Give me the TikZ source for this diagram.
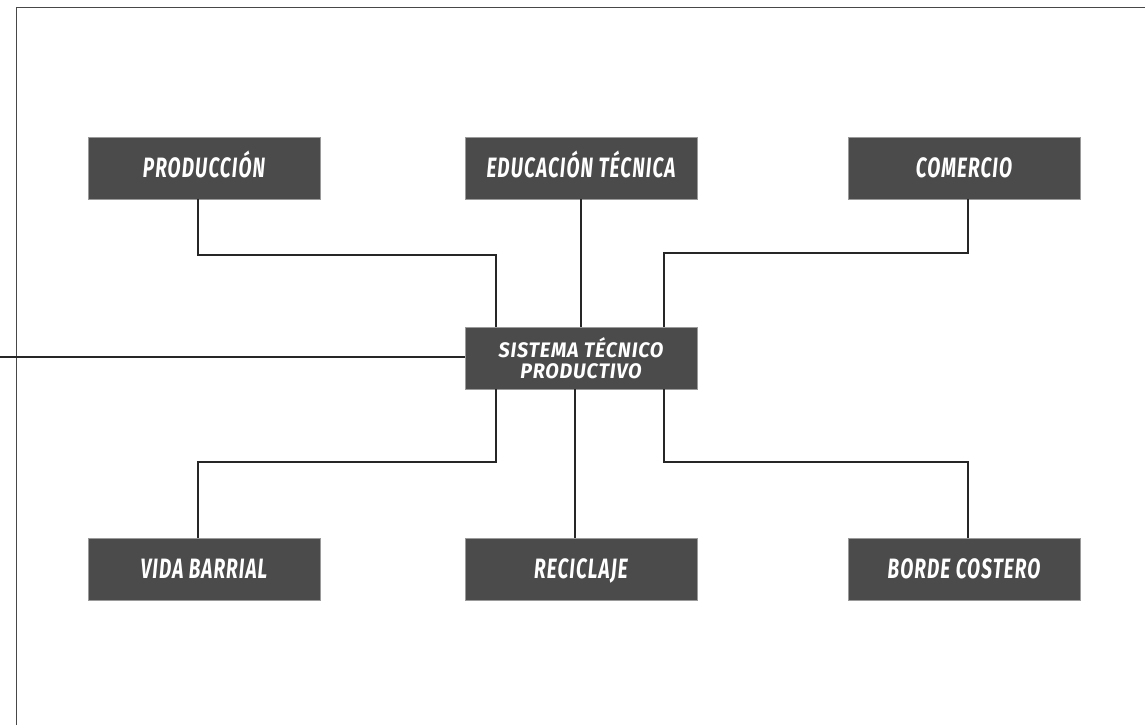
\documentclass[tikz,border=0pt]{standalone}
\usepackage{fontspec}
\usepackage{tikz}
\newfontfamily\boxfont[FakeStretch=0.68,LetterSpace=4]{Fira Sans}
\newfontfamily\centrefont[FakeStretch=0.94,LetterSpace=4]{Fira Sans}
\definecolor{boxgray}{HTML}{4B4B4B}
\definecolor{edgegray}{HTML}{9A9A9A}
\definecolor{framegray}{HTML}{484848}

\begin{document}
\begin{tikzpicture}[x=1pt, y=-1pt,
  tema/.style={fill=boxgray, draw=edgegray, line width=0.8pt, minimum width=232pt,
    minimum height=62pt, inner sep=0pt, text=white, text height=19.3pt, text depth=0pt,
    font=\boxfont\bfseries\itshape\fontsize{28}{30}\selectfont},
  nucleo/.style={tema, align=center, text height=, text depth=,
    font=\centrefont\bfseries\itshape\fontsize{21}{21}\selectfont},
  enlace/.style={draw=black!85, line width=1.3pt}]
\useasboundingbox (0,0) rectangle (1145,725);
\draw[framegray, line width=1.6pt] (16.5,725) |- (1145,7.5);

\node[tema] (prod) at (204,168) {PRODUCCIÓN};
\node[tema] (edu) at (581,168) {EDUCACIÓN TÉCNICA};
\node[tema] (com) at (964,168) {COMERCIO};
\node[nucleo] (sis) at (581,358) {SISTEMA TÉCNICO\\PRODUCTIVO};
\node[tema] (vida) at (204,569) {VIDA BARRIAL};
\node[tema] (reci) at (581,569) {RECICLAJE};
\node[tema] (borde) at (964,569) {BORDE COSTERO};

% codos de los enlaces
\coordinate (kprod) at (496,255);
\coordinate (kcom) at (664,253);
\coordinate (kvida) at (496,462);
\coordinate (kborde) at (664,462);
\coordinate (lado) at (0,357);

\draw[enlace] ([xshift=-6]prod.south) |- (kprod) -- (kprod |- sis.north);
\draw[enlace] (edu.south) -- (sis.north);
\draw[enlace] ([xshift=4]com.south) |- (kcom) -- (kcom |- sis.north);
\draw[enlace] (lado) -- (lado -| sis.west);
\draw[enlace] (kvida |- sis.south) -- (kvida) -| ([xshift=-6]vida.north);
\draw[enlace] ([xshift=-6]sis.south) -- ([xshift=-6]reci.north);
\draw[enlace] (kborde |- sis.south) -- (kborde) -| ([xshift=4]borde.north);
\end{tikzpicture}
\end{document}
